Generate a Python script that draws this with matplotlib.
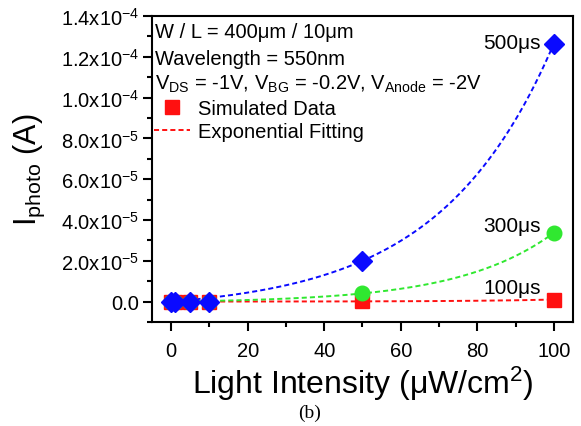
import numpy as np
import matplotlib
matplotlib.use("Agg")
import matplotlib.pyplot as plt
from matplotlib.ticker import FixedLocator, MultipleLocator

intensity = [0, 1, 5, 10, 50, 100]
i_100us = [0.0, 0.0, 0.0, 0.0, 1.0e-7, 1.0e-6]
i_300us = [0.0, 0.0, 0.0, 0.0, 4.0e-6, 3.37e-5]
i_500us = [0.0, 0.0, 0.0, 0.0, 2.0e-5, 1.265e-4]
yticks = [0, 2e-5, 4e-5, 6e-5, 8e-5, 1.0e-4, 1.2e-4, 1.4e-4]
ytick_labels = ["0.0", r"2.0x10$^{-5}$", r"4.0x10$^{-5}$", r"6.0x10$^{-5}$",
                r"8.0x10$^{-5}$", r"1.0x10$^{-4}$", r"1.2x10$^{-4}$", r"1.4x10$^{-4}$"]
xticks = [0, 20, 40, 60, 80, 100]

plt.rcParams['font.family'] = ['Liberation Sans', 'DejaVu Sans']
plt.rcParams['mathtext.fontset'] = 'custom'
plt.rcParams['mathtext.rm'] = 'Liberation Sans'
plt.rcParams['mathtext.it'] = 'Liberation Sans'
plt.rcParams['mathtext.default'] = 'regular'

fig = plt.figure(figsize=(5.81, 4.27), dpi=100)
ax = fig.add_axes([0.2616, 0.2436, 0.7246, 0.7166])

def exp_fit(x, y):
    # two-point fit of y = a*(exp(b x) - 1) through the points at 50 and 100
    x1, x2 = x[-2], x[-1]
    y1, y2 = y[-2], y[-1]
    u = y2 / y1 - 1.0
    b = np.log(u) / x1
    a = y1 / (np.exp(b * x1) - 1.0)
    return a, b

xf = np.linspace(0, 100, 300)
c_red, c_green, c_blue = "#ff1010", "#30e830", "#0a0aff"
dash = (0, (2.6, 1.6))
for ys, c in [(i_100us, c_red), (i_300us, c_green), (i_500us, c_blue)]:
    a, b = exp_fit(intensity, ys)
    ax.plot(xf, a * (np.exp(b * xf) - 1.0), ls=dash, color=c, lw=1.4, zorder=2)

ax.plot(intensity, i_100us, ls='none', marker='s', ms=9.5, color=c_red, zorder=3)
ax.plot(intensity, i_300us, ls='none', marker='o', ms=10.5, color=c_green, zorder=4)
ax.plot(intensity, i_500us, ls='none', marker='D', ms=10.5, color=c_blue, zorder=5)

# legend proxies
h1, = ax.plot([], [], ls='none', marker='s', ms=10, color=c_red, label='Simulated Data')
h2, = ax.plot([], [], ls=dash, lw=1.4, color=c_red, label='Exponential Fitting')
ax.legend(handles=[h1, h2], loc='upper left', bbox_to_anchor=(0.005, 0.729), frameon=False,
          fontsize=14.5, handlelength=1.8, handletextpad=0.4, labelspacing=0.22,
          borderpad=0, borderaxespad=0)

tfs = 14.5
ax.text(0.007, 0.931, "W / L = 400μm / 10μm", transform=ax.transAxes, fontsize=tfs, va='baseline')
ax.text(0.007, 0.843, "Wavelength = 550nm", transform=ax.transAxes, fontsize=tfs, va='baseline')
ax.text(0.007, 0.761, r"V$_{DS}$ = -1V, V$_{BG}$ = -0.2V, V$_{Anode}$ = -2V",
        transform=ax.transAxes, fontsize=tfs, va='baseline')

ax.text(96.5, 12.42e-5, "500μs", fontsize=15, ha='right', va='baseline')
ax.text(96.5, 3.47e-5, "300μs", fontsize=15, ha='right', va='baseline')
ax.text(96.5, 0.44e-5, "100μs", fontsize=15, ha='right', va='baseline')

ax.set_xlim(-5, 105)
ax.set_ylim(-1.0e-5, 1.4e-4)
ax.yaxis.set_major_locator(FixedLocator(yticks))
ax.set_yticklabels(ytick_labels)
ax.yaxis.set_minor_locator(MultipleLocator(1e-5))
ax.set_xticks(xticks)
ax.xaxis.set_minor_locator(MultipleLocator(10))
ax.tick_params(which='major', direction='out', length=6.5, width=1.5, labelsize=14.5)
ax.tick_params(which='minor', direction='out', length=3.5, width=1.5)
ax.tick_params(axis='x', which='major', pad=7)
ax.tick_params(axis='y', which='major', pad=2.5)
for s in ax.spines.values():
    s.set_linewidth(1.5)

ax.set_ylabel(r"I$_{photo}$ (A)", fontsize=22, labelpad=10)
ax.set_xlabel(r"Light Intensity (μW/cm$^{2}$)", fontsize=23, labelpad=3)
fig.text(0.533, 1 - 413 / 427, "(b)", ha='center', va='center', fontsize=14,
         family=['Liberation Serif', 'DejaVu Serif'])

fig.savefig("out.png", dpi=100)
